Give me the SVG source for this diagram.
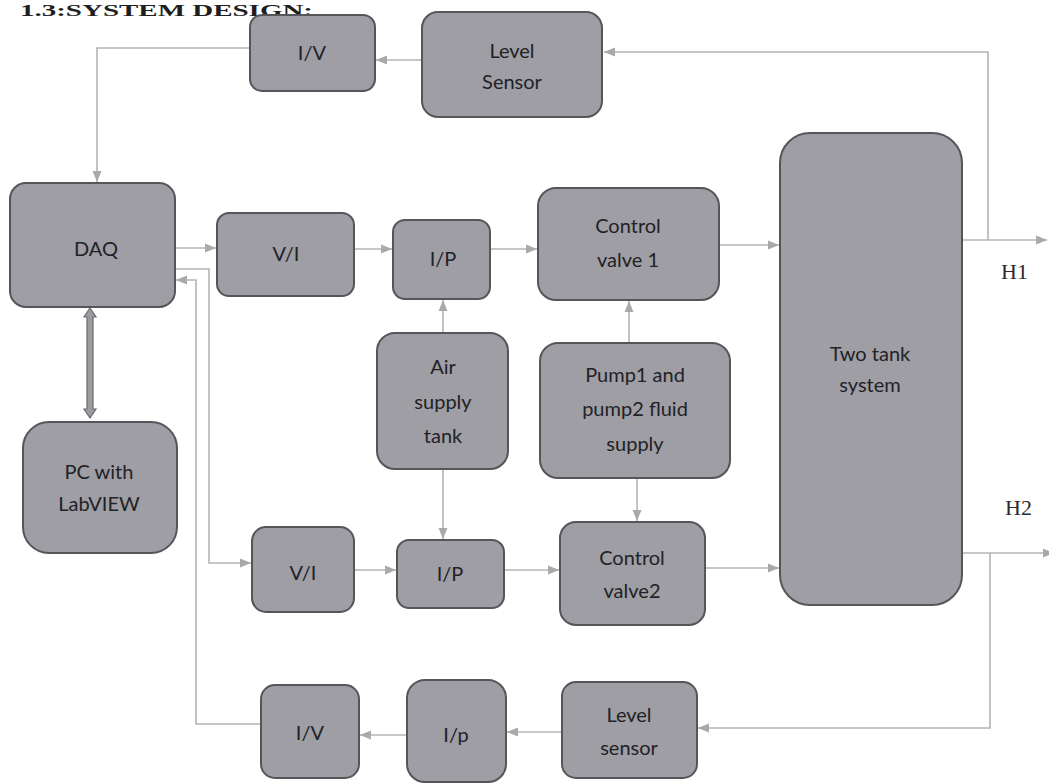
<svg xmlns="http://www.w3.org/2000/svg" width="1049" height="783" viewBox="0 0 1049 783">
<style>
.box{fill:#9e9ea4;stroke:#55555a;stroke-width:2}
.lbl{font-family:Lato,"Open Sans","Liberation Sans",sans-serif;font-size:20px;fill:#222226;text-anchor:middle}
.c{fill:none;stroke:#b4b4b4;stroke-width:1.6}
.h{font-family:"Liberation Serif",serif;font-size:22px;fill:#2a2a2a}
</style>
<defs>
<marker id="a" markerUnits="userSpaceOnUse" markerWidth="12" markerHeight="10" refX="11" refY="5" orient="auto">
<path d="M0,0.5 L11,5 L0,9.5 z" fill="#a9a9a9"/>
</marker>
</defs>
<rect width="1049" height="783" fill="#ffffff"/>
<text x="20" y="15.5" font-family="Liberation Serif,serif" font-weight="bold" font-size="17" textLength="293" lengthAdjust="spacingAndGlyphs" fill="#1e1e1e">1.3:SYSTEM DESIGN:</text>

<g id="connectors">
<path class="c" d="M988,240 V52 H604" marker-end="url(#a)"/>
<path class="c" d="M422,60 H376" marker-end="url(#a)"/>
<path class="c" d="M250,48 H97 V182" marker-end="url(#a)"/>
<path class="c" d="M175,248 H216" marker-end="url(#a)"/>
<path class="c" d="M354,249 H392" marker-end="url(#a)"/>
<path class="c" d="M490,249 H537" marker-end="url(#a)"/>
<path class="c" d="M719,245 H779" marker-end="url(#a)"/>
<path class="c" d="M962,240 H1047" marker-end="url(#a)"/>
<path class="c" d="M443,333 V300" marker-end="url(#a)"/>
<path class="c" d="M443,469 V539" marker-end="url(#a)"/>
<path class="c" d="M629,343 V301" marker-end="url(#a)"/>
<path class="c" d="M637,478 V521" marker-end="url(#a)"/>
<path class="c" d="M175,269 H209 V563 H251" marker-end="url(#a)"/>
<path class="c" d="M354,570 H396" marker-end="url(#a)"/>
<path class="c" d="M504,570 H559" marker-end="url(#a)"/>
<path class="c" d="M705,568 H779" marker-end="url(#a)"/>
<path class="c" d="M962,553 H1054" marker-end="url(#a)"/>
<path class="c" d="M990,553 V728 H698" marker-end="url(#a)"/>
<path class="c" d="M562,732 H507" marker-end="url(#a)"/>
<path class="c" d="M407,735 H360" marker-end="url(#a)"/>
<path class="c" d="M261,724 H196 V280 H176" marker-end="url(#a)"/>
<path d="M90,308 L96,317 L93,317 L93,409 L96,409 L90,418 L84,409 L87,409 L87,317 L84,317 Z" fill="#9c9ca0" stroke="#6a6a6e" stroke-width="1.2"/>
</g>

<g id="iv_top"><rect class="box" x="250" y="15" width="125" height="76" rx="12"/><text class="lbl" x="312" y="60">I/V</text></g>
<g id="level_sensor_top"><rect class="box" x="422" y="12" width="180" height="105" rx="16"/><text class="lbl" x="512" y="58">Level</text><text class="lbl" x="512" y="89">Sensor</text></g>
<g id="daq"><rect class="box" x="10" y="183" width="165" height="124" rx="16"/><text class="lbl" x="96" y="256">DAQ</text></g>
<g id="vi_top"><rect class="box" x="217" y="213" width="137" height="83" rx="12"/><text class="lbl" x="286" y="261">V/I</text></g>
<g id="ip_top"><rect class="box" x="393" y="220" width="97" height="79" rx="12"/><text class="lbl" x="443" y="266">I/P</text></g>
<g id="control_valve1"><rect class="box" x="538" y="188" width="181" height="112" rx="18"/><text class="lbl" x="628" y="233">Control</text><text class="lbl" x="628" y="267">valve 1</text></g>
<g id="air_supply"><rect class="box" x="377" y="333" width="131" height="136" rx="18"/><text class="lbl" x="443" y="374">Air</text><text class="lbl" x="443" y="409">supply</text><text class="lbl" x="443" y="443">tank</text></g>
<g id="pump_supply"><rect class="box" x="540" y="343" width="190" height="135" rx="18"/><text class="lbl" x="635" y="382">Pump1 and</text><text class="lbl" x="635" y="416">pump2 fluid</text><text class="lbl" x="635" y="451">supply</text></g>
<g id="two_tank"><rect class="box" x="780" y="133" width="182" height="472" rx="30"/><text class="lbl" x="870" y="361">Two tank</text><text class="lbl" x="870" y="392">system</text></g>
<g id="pc"><rect class="box" x="23" y="422" width="154" height="131" rx="26"/><text class="lbl" x="99" y="479">PC with</text><text class="lbl" x="99" y="511">LabVIEW</text></g>
<g id="vi_bottom"><rect class="box" x="252" y="527" width="102" height="85" rx="14"/><text class="lbl" x="303" y="580">V/I</text></g>
<g id="ip_bottom"><rect class="box" x="397" y="540" width="107" height="68" rx="12"/><text class="lbl" x="450" y="581">I/P</text></g>
<g id="control_valve2"><rect class="box" x="560" y="522" width="145" height="103" rx="16"/><text class="lbl" x="632" y="565">Control</text><text class="lbl" x="632" y="598">valve2</text></g>
<g id="iv_bottom"><rect class="box" x="261" y="685" width="98" height="93" rx="14"/><text class="lbl" x="310" y="740">I/V</text></g>
<g id="ip_lower"><rect class="box" x="407" y="680" width="99" height="102" rx="18"/><text class="lbl" x="456" y="742">I/p</text></g>
<g id="level_sensor_bottom"><rect class="box" x="562" y="682" width="135" height="96" rx="14"/><text class="lbl" x="629" y="722">Level</text><text class="lbl" x="629" y="755">sensor</text></g>

<g id="labels"><text class="h" x="1001" y="279">H1</text><text class="h" x="1005" y="515">H2</text></g>
</svg>
